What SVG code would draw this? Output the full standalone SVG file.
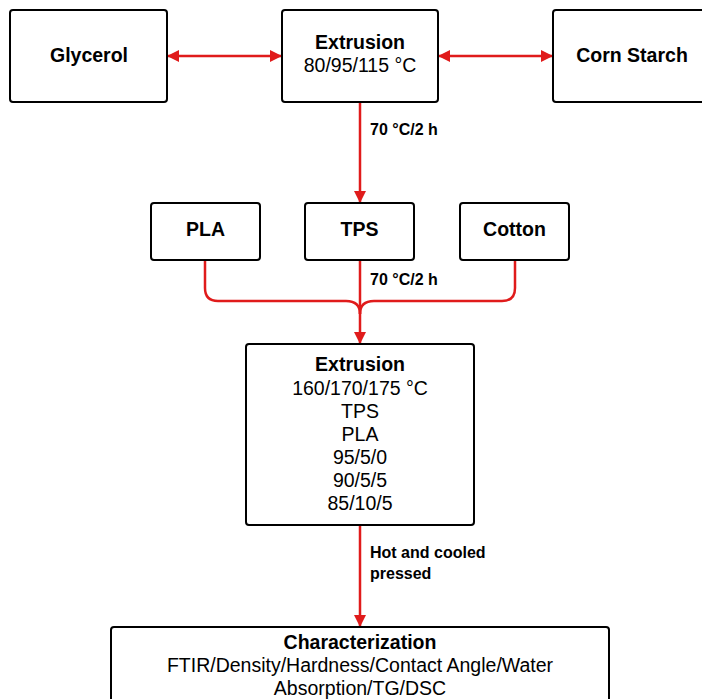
<svg xmlns="http://www.w3.org/2000/svg" width="702" height="699" viewBox="0 0 702 699">
<defs>
<style>
.box{fill:#fff;stroke:#000;stroke-width:2}
.t{font-family:"Liberation Sans",Arial,sans-serif;font-size:19.5px;fill:#000;text-anchor:middle}
.b{font-weight:bold}
.lbl{font-family:"Liberation Sans",Arial,sans-serif;font-size:16px;font-weight:bold;fill:#000}
.c{fill:none;stroke:#e01b1b;stroke-width:2.5}
</style>
<marker id="ah" viewBox="0 0 12 12" refX="11" refY="6" markerWidth="12" markerHeight="12" markerUnits="userSpaceOnUse" orient="auto-start-reverse">
<path d="M0,0 L12,6 L0,12 z" fill="#e01b1b"/>
</marker>
</defs>
<rect width="702" height="699" fill="#fff"/>
<g id="connectors">
<line class="c" x1="168" y1="56" x2="281" y2="56" marker-start="url(#ah)" marker-end="url(#ah)"/>
<line class="c" x1="439" y1="56" x2="552" y2="56" marker-start="url(#ah)" marker-end="url(#ah)"/>
<line class="c" x1="360" y1="103" x2="360" y2="202" marker-end="url(#ah)"/>
<line class="c" x1="360" y1="261" x2="360" y2="343" marker-end="url(#ah)"/>
<path class="c" d="M205,261 V288 Q205,301 218,301 H346 Q360,301 360,314"/>
<path class="c" d="M515,261 V288 Q515,301 502,301 H374 Q360,301 360,314"/>
<line class="c" x1="360" y1="526" x2="360" y2="626" marker-end="url(#ah)"/>
<text class="lbl" x="370" y="135">70 °C/2 h</text>
<text class="lbl" x="370" y="285">70 °C/2 h</text>
<text class="lbl" x="370" y="558">Hot and cooled</text>
<text class="lbl" x="370" y="579">pressed</text>
</g>
<g id="glycerol">
<rect class="box" x="10" y="10" width="157" height="92" rx="3"/>
<text class="t b" x="89" y="62">Glycerol</text>
</g>
<g id="extrusion1">
<rect class="box" x="282" y="10" width="156" height="92" rx="3"/>
<text class="t b" x="360" y="49">Extrusion</text>
<text class="t" x="360" y="72">80/95/115 °C</text>
</g>
<g id="cornstarch">
<rect class="box" x="553" y="10" width="160" height="92" rx="3"/>
<text class="t b" x="632" y="62">Corn Starch</text>
</g>
<g id="pla">
<rect class="box" x="151" y="203" width="109" height="57" rx="3"/>
<text class="t b" x="205.500" y="236">PLA</text>
</g>
<g id="tps">
<rect class="box" x="305" y="203" width="109" height="57" rx="3"/>
<text class="t b" x="359.500" y="236">TPS</text>
</g>
<g id="cotton">
<rect class="box" x="460" y="203" width="109" height="57" rx="3"/>
<text class="t b" x="514.500" y="236">Cotton</text>
</g>
<g id="extrusion2">
<rect class="box" x="246" y="344" width="228" height="181" rx="3"/>
<text class="t b" x="360" y="371">Extrusion</text>
<text class="t" x="360" y="395">160/170/175 °C</text>
<text class="t" x="360" y="418">TPS</text>
<text class="t" x="360" y="441">PLA</text>
<text class="t" x="360" y="464">95/5/0</text>
<text class="t" x="360" y="487">90/5/5</text>
<text class="t" x="360" y="510">85/10/5</text>
</g>
<g id="characterization">
<rect class="box" x="111" y="627" width="498" height="90" rx="3"/>
<text class="t b" x="360" y="649">Characterization</text>
<text class="t" x="360" y="672">FTIR/Density/Hardness/Contact Angle/Water</text>
<text class="t" x="360" y="695">Absorption/TG/DSC</text>
</g>
</svg>
